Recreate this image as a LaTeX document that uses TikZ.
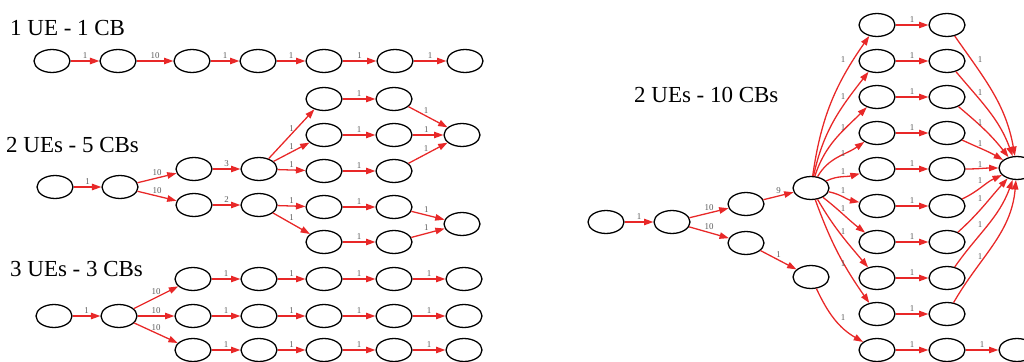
\documentclass[tikz,border=0pt]{standalone}
\usepackage{fontspec}
\setmainfont{Liberation Serif}
\usetikzlibrary{arrows.meta,shapes.geometric}
\definecolor{edgered}{RGB}{232,40,40}
\begin{document}
\begin{tikzpicture}[x=0.03cm,y=0.03cm,
  st/.style={draw=black, line width=1.1pt, ellipse, minimum width=30.7pt, minimum height=19.6pt, inner sep=0pt},
  edge/.style={draw=edgered, line width=1.1pt, -{Triangle[length=8pt,width=5.5pt]}},
  lbl/.style={font=\fontsize{7.6}{8}\selectfont, text=black!65, inner sep=1.8pt},
  ttl/.style={font=\fontsize{19.6}{22}\selectfont, anchor=base west, inner sep=0pt}]
\useasboundingbox (0,0) rectangle (1024,-362);
\clip (0,0) rectangle (1024,-362);
% titles
\node[ttl] (t1) at (10,-35) {1 UE - 1 CB};
\node[ttl] (t2) at (6,-152) {2 UEs - 5 CBs};
\node[ttl] (t3) at (10,-276) {3 UEs - 3 CBs};
\node[ttl] (t4) at (634,-102) {2 UEs - 10 CBs};
% ---------- section 1
\foreach \n/\x in {a/52,b/118,c/192,d/258,e/324,f/395,g/465}
  \node[st] (p\n) at (\x,-61) {};
\foreach \s/\t/\w in {a/b/1,b/c/10,c/d/1,d/e/1,e/f/1,f/g/1}
  \draw[edge] (p\s) -- node[lbl,above] (lp\s) {\w} (p\t);
% ---------- section 2
\node[st] (qA) at (55,-187) {};
\node[st] (qB) at (120,-187) {};
\node[st] (qC1) at (194,-169) {};
\node[st] (qC2) at (194,-205) {};
\node[st] (qD1) at (259,-169) {};
\node[st] (qD2) at (259,-205) {};
\foreach \i/\y in {1/99,2/135,3/171,4/207,5/242}{
  \node[st] (qE\i) at (324,-\y) {};
  \node[st] (qF\i) at (394,-\y) {};
}
\node[st] (qG1) at (462,-135) {};
\node[st] (qG2) at (462,-224) {};
\draw[edge] (qA) -- node[lbl,above] (lqa) {1} (qB);
\draw[edge] (qB) -- node[lbl,above] (lqb1) {10} (qC1);
\draw[edge] (qB) -- node[lbl,above] (lqb2) {10} (qC2);
\draw[edge] (qC1) -- node[lbl,above] (lqc1) {3} (qD1);
\draw[edge] (qC2) -- node[lbl,above] (lqc2) {2} (qD2);
\foreach \d/\e in {1/1,1/2,1/3,2/4,2/5}
  \draw[edge] (qD\d) -- node[lbl,above] (lqd\e) {1} (qE\e);
\foreach \i in {1,...,5}
  \draw[edge] (qE\i) -- node[lbl,above] (lqe\i) {1} (qF\i);
\foreach \f/\g in {1/1,2/1,3/1,4/2,5/2}
  \draw[edge] (qF\f) -- node[lbl,above,pos=0.45] (lqf\f) {1} (qG\g);
% ---------- section 3
\node[st] (rA) at (54,-316) {};
\node[st] (rB) at (119,-316) {};
\foreach \r/\y in {1/279,2/316,3/350}{
  \foreach \c/\x in {1/193,2/259,3/324,4/394,5/464}
    \node[st] (r\r\c) at (\x,-\y) {};
  \draw[edge] (rB) -- node[lbl,above] (lrb\r) {10} (r\r1);
  \foreach \c/\d in {1/2,2/3,3/4,4/5}
    \draw[edge] (r\r\c) -- node[lbl,above] (lr\r\c) {1} (r\r\d);
}
\draw[edge] (rA) -- node[lbl,above] (lra) {1} (rB);
% ---------- right section
\node[st] (tA) at (606,-222) {};
\node[st] (tB) at (672,-222) {};
\node[st] (tC1) at (746,-204) {};
\node[st] (tC2) at (746,-243) {};
\node[st] (hub) at (811,-188) {};
\node[st] (tD2) at (811,-277) {};
\foreach \i/\y in {1/25,2/61,3/97,4/133,5/169,6/206,7/242,8/278,9/314,10/350}{
  \node[st] (u\i) at (877,-\y) {};
  \node[st] (v\i) at (947,-\y) {};
  \draw[edge] (u\i) -- node[lbl,above] (luv\i) {1} (v\i);
}
\node[st] (sink) at (1017,-168) {};
\node[st] (sinkb) at (1017,-350) {};
\draw[edge] (tA) -- node[lbl,above] (lta) {1} (tB);
\draw[edge] (tB) -- node[lbl,above] (ltb1) {10} (tC1);
\draw[edge] (tB) -- node[lbl,above] (ltb2) {10} (tC2);
\draw[edge] (tC1) -- node[lbl,above] (ltc1) {9} (hub);
\draw[edge] (tC2) -- node[lbl,above] (ltc2) {1} (tD2);
% hub fan
\foreach \i/\o/\n in {1/82/235,2/78/232,3/72/225,4/60/215,5/25/195,6/-12/168,7/-38/142,8/-60/130,9/-70/125}
  \draw[edge] (hub) to[out=\o,in=\n] (u\i);
\draw[edge] (tD2) to[out=-65,in=150] (u10);
\foreach \i/\y in {1/60,2/97,3/128,4/154,5/172,6/191,7/209,8/232,9/264,10/318}
  \node[lbl] (lhu\i) at (843,-\y) {1};
% into sink
\foreach \i/\o/\n in {1/-55/100,2/-50/110,3/-40/128,4/-25/150,5/0/180,6/25/205,7/42/228,8/55/250,9/60/265}
  \draw[edge] (v\i) to[out=\o,in=\n] (sink);
\foreach \i/\y in {1/60,2/93,3/123,4/144,5/165,6/181,7/199,8/225,9/257}
  \node[lbl] (lvs\i) at (980,-\y) {1};
\draw[edge] (v10) -- node[lbl,above] (lvs10) {1} (sinkb);
\end{tikzpicture}
\end{document}
